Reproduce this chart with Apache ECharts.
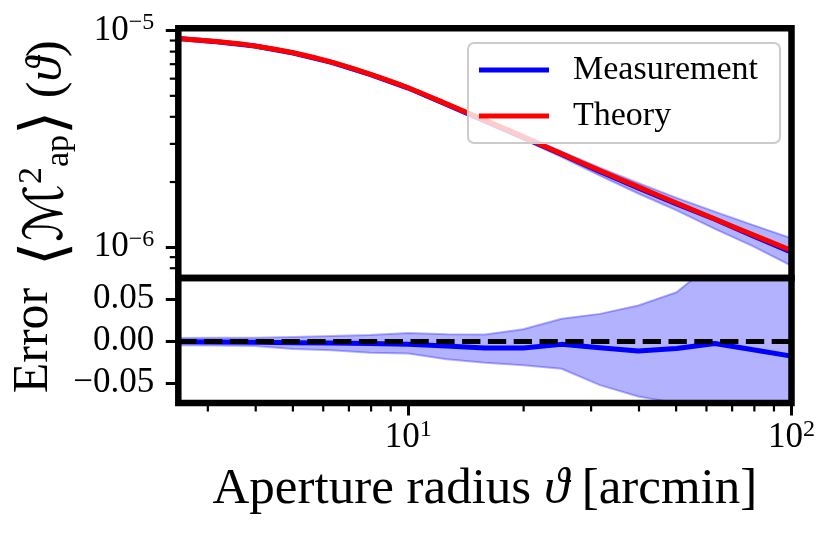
<!DOCTYPE html>
<html><head><meta charset="utf-8">
<script src="https://cdn.jsdelivr.net/npm/echarts@6/dist/echarts.min.js"></script>
<style>html,body{margin:0;padding:0;background:#fff}#c{width:830px;height:533px}</style>
</head><body><div id="c"></div>
<script>
// ---- data ----
const xVals   = [2.512, 3.162, 3.981, 5.012, 6.310, 7.943, 10, 12.59, 15.85, 19.95, 25.12, 31.62, 39.81, 50.12, 63.10, 79.43, 100];
const theory  = [9.2e-6, 8.9e-6, 8.5e-6, 7.9e-6, 7.15e-6, 6.3e-6, 5.45e-6, 4.59e-6, 3.86e-6, 3.24e-6, 2.70e-6, 2.26e-6, 1.90e-6, 1.60e-6, 1.35e-6, 1.14e-6, 9.66e-7];
const measTop = [9.19e-6, 8.89e-6, 8.49e-6, 7.88e-6, 7.13e-6, 6.28e-6, 5.43e-6, 4.56e-6, 3.83e-6, 3.21e-6, 2.69e-6, 2.24e-6, 1.88e-6, 1.585e-6, 1.346e-6, 1.128e-6, 9.49e-7];
const topUpper = [9.23e-6, 8.93e-6, 8.53e-6, 7.94e-6, 7.19e-6, 6.34e-6, 5.50e-6, 4.63e-6, 3.89e-6, 3.28e-6, 2.77e-6, 2.33e-6, 1.98e-6, 1.69e-6, 1.46e-6, 1.265e-6, 1.10e-6];
const topLower = [9.15e-6, 8.85e-6, 8.45e-6, 7.83e-6, 7.07e-6, 6.21e-6, 5.37e-6, 4.49e-6, 3.76e-6, 3.15e-6, 2.61e-6, 2.14e-6, 1.77e-6, 1.48e-6, 1.215e-6, 1.01e-6, 0.82e-6];
const errMeas  = [-0.001, -0.0012, -0.0015, -0.002, -0.0025, -0.003, -0.004, -0.006, -0.0083, -0.0083, -0.004, -0.008, -0.012, -0.009, -0.003, -0.0105, -0.018];
const errUpper = [0.0036, 0.0038, 0.004, 0.0047, 0.006, 0.0071, 0.0095, 0.008, 0.0077, 0.0139, 0.0264, 0.0323, 0.0423, 0.058, 0.095, 0.115, 0.135];
const errLower = [-0.005, -0.0055, -0.006, -0.0095, -0.011, -0.014, -0.015, -0.0217, -0.026, -0.029, -0.033, -0.0525, -0.066, -0.074, -0.10, -0.125, -0.15];
const zeroLevel = 0;

// ---- axes / ticks ----
const xMin = 2.512, xMax = 100;
const topMin = 7.21e-7, topMax = 1.025e-5;
const errMin = -0.0738, errMax = 0.075;
const xMajor = [10, 100];
const xMinor = [3, 4, 5, 6, 7, 8, 9, 20, 30, 40, 50, 60, 70, 80, 90];
const topMajor = [1e-6, 1e-5];
const topMinor = [8e-7, 9e-7, 2e-6, 3e-6, 4e-6, 5e-6, 6e-6, 7e-6, 8e-6, 9e-6];
const errTicks = [-0.05, 0, 0.05];
const errTickLabels = ['\u22120.05', '0.00', '0.05'];

const FONT = "'Liberation Serif','DejaVu Serif','DejaVu Sans',serif";
const BAND = 'rgba(0,0,255,0.3)';

function expLabel(v) {
  const e = Math.round(Math.log10(v));
  return '{b|10}{s|' + (e < 0 ? '\u2212' + (-e) : String(e)) + '}';
}
const expRich = {
  b: { fontFamily: FONT, fontSize: 35, lineHeight: 35, color: '#000' },
  s: { fontFamily: FONT, fontSize: 24, lineHeight: 24, padding: [0, 0, 16, 0], color: '#000' }
};

function bandRender(xs, lo, hi) {
  return function (params, api) {
    if (params.dataIndex !== 0) return;
    const pts = [];
    for (let i = 0; i < xs.length; i++) pts.push(api.coord([xs[i], hi[i]]));
    for (let i = xs.length - 1; i >= 0; i--) pts.push(api.coord([xs[i], lo[i]]));
    return { type: 'polygon', shape: { points: pts },
      style: { fill: BAND, stroke: BAND, lineWidth: 2 } };
  };
}
function tickRender(dx, dy) {
  return function (params, api) {
    const p = api.coord([api.value(0), api.value(1)]);
    return { type: 'line', shape: { x1: p[0], y1: p[1], x2: p[0] + dx, y2: p[1] + dy },
      style: { stroke: '#000', lineWidth: 2.2 } };
  };
}

const chart = echarts.init(document.getElementById('c'), null, { renderer: 'canvas' });
const gridCommon = { left: 178.3, right: 38.5, show: true, borderColor: '#000', borderWidth: 6.5,
  backgroundColor: 'transparent', z: 5, containLabel: false, outerBoundsMode: 'none' };

chart.setOption({
  animation: false,
  backgroundColor: '#fff',
  grid: [
    Object.assign({ top: 28.3, height: 249.7 }, gridCommon),
    Object.assign({ top: 278, height: 125 }, gridCommon)
  ],
  legend: {
    left: 468, top: 43, orient: 'vertical',
    padding: [10, 22, 10, 11], itemGap: 12, itemWidth: 70, itemHeight: 5, icon: 'rect',
    backgroundColor: 'rgba(255,255,255,0.8)', borderColor: '#cccccc', borderWidth: 2, borderRadius: 6,
    textStyle: { fontFamily: FONT, fontSize: 34, lineHeight: 33, color: '#000', padding: [0, 0, 0, 19] },
    data: [
      { name: 'Measurement', itemStyle: { color: '#0000ff' } },
      { name: 'Theory', itemStyle: { color: '#ff0000' } }
    ]
  },
  xAxis: [
    { type: 'log', gridIndex: 0, min: xMin, max: xMax,
      axisLine: { show: false, onZero: false }, axisTick: { show: false }, axisLabel: { show: false }, splitLine: { show: false } },
    { type: 'log', gridIndex: 1, min: xMin, max: xMax,
      axisLine: { show: false, onZero: false }, splitLine: { show: false },
      axisTick: { show: true, length: 12.5, customValues: xMajor, lineStyle: { color: '#000', width: 3 } },
      axisLabel: { customValues: xMajor, margin: 17, formatter: expLabel, rich: expRich, color: '#000' },
      name: 'Aperture radius {i|\u03d1} [arcmin]', nameLocation: 'middle', nameGap: 61, nameMoveOverlap: false,
      nameTextStyle: { fontFamily: FONT, fontSize: 51, lineHeight: 51, color: '#000',
        rich: { i: { fontFamily: FONT, fontSize: 51, lineHeight: 51, fontStyle: 'italic', color: '#000' } } } }
  ],
  yAxis: [
    { type: 'log', gridIndex: 0, min: topMin, max: topMax,
      axisLine: { show: false, onZero: false }, splitLine: { show: false },
      axisTick: { show: true, length: 12.5, customValues: topMajor, lineStyle: { color: '#000', width: 3 } },
      axisLabel: { customValues: topMajor, margin: 24, formatter: expLabel, rich: expRich, color: '#000' },
      name: '{br|\u27e8}{m|\u2133}{sp|2}{sb|ap}{br|\u27e9}{n| (}{i|\u03d1}{n|)}',
      nameLocation: 'middle', nameRotate: 90, nameGap: 96, nameMoveOverlap: false,
      nameTextStyle: { color: '#000', rich: {
        br: { fontFamily: "'DejaVu Serif','DejaVu Sans',serif", fontSize: 62, lineHeight: 68, color: '#000' },
        m:  { fontFamily: "'DejaVu Serif','DejaVu Sans',serif", fontSize: 54, lineHeight: 68, color: '#000' },
        sp: { fontFamily: FONT, fontSize: 34, lineHeight: 34, padding: [0, 0, 32, 0], color: '#000' },
        sb: { fontFamily: FONT, fontSize: 34, lineHeight: 34, padding: [22, 0, 0, 0], color: '#000' },
        n:  { fontFamily: FONT, fontSize: 50, lineHeight: 68, color: '#000' },
        i:  { fontFamily: FONT, fontSize: 50, lineHeight: 68, fontStyle: 'italic', color: '#000' }
      } } },
    { type: 'value', gridIndex: 1, min: errMin, max: errMax,
      axisLine: { show: false, onZero: false }, splitLine: { show: false },
      axisTick: { show: true, length: 12.5, customValues: errTicks, lineStyle: { color: '#000', width: 3 } },
      axisLabel: { customValues: errTicks, margin: 24, color: '#000', fontFamily: FONT, fontSize: 35,
        formatter: function (v) { const i = errTicks.findIndex(t => Math.abs(t - v) < 1e-9); return i >= 0 ? errTickLabels[i] : ''; } },
      name: 'Error', nameLocation: 'middle', nameRotate: 90, nameGap: 120, nameMoveOverlap: false,
      nameTextStyle: { fontFamily: FONT, fontSize: 50, lineHeight: 48, color: '#000' } }
  ],
  series: [
    { type: 'custom', name: 'bandTop', xAxisIndex: 0, yAxisIndex: 0, clip: true, z: 1, silent: true,
      renderItem: bandRender(xVals, topLower, topUpper),
      data: xVals.map((x, i) => [x, topLower[i], topUpper[i]]), encode: { x: 0, y: [1, 2] } },
    { type: 'line', name: 'Measurement', xAxisIndex: 0, yAxisIndex: 0, z: 2, showSymbol: false, symbol: 'none',
      color: '#0000ff', lineStyle: { color: '#0000ff', width: 5 },
      data: xVals.map((x, i) => [x, measTop[i]]) },
    { type: 'line', name: 'Theory', xAxisIndex: 0, yAxisIndex: 0, z: 3, showSymbol: false, symbol: 'none', smooth: 0.3,
      color: '#ff0000', lineStyle: { color: '#ff0000', width: 5 },
      data: xVals.map((x, i) => [x, theory[i]]) },
    { type: 'custom', name: 'bandErr', xAxisIndex: 1, yAxisIndex: 1, clip: true, z: 1, silent: true,
      renderItem: bandRender(xVals, errLower, errUpper),
      data: xVals.map((x, i) => [x, errLower[i], errUpper[i]]), encode: { x: 0, y: [1, 2] } },
    { type: 'line', name: 'err', xAxisIndex: 1, yAxisIndex: 1, z: 2, showSymbol: false, symbol: 'none',
      color: '#0000ff', lineStyle: { color: '#0000ff', width: 5 },
      data: xVals.map((x, i) => [x, errMeas[i]]) },
    { type: 'line', name: 'zero', xAxisIndex: 1, yAxisIndex: 1, z: 4, data: [], silent: true,
      markLine: { silent: true, symbol: ['none', 'none'], label: { show: false }, animation: false,
        lineStyle: { color: '#000', width: 5, type: [18.3, 7.5] }, emphasis: { disabled: true },
        data: [{ yAxis: zeroLevel }] } },
    { type: 'custom', name: 'minorX', xAxisIndex: 1, yAxisIndex: 1, clip: false, z: 1, silent: true,
      renderItem: tickRender(0, 8.5), data: xMinor.map(v => [v, errMin]) },
    { type: 'custom', name: 'minorY', xAxisIndex: 0, yAxisIndex: 0, clip: false, z: 1, silent: true,
      renderItem: tickRender(-8.5, 0), data: topMinor.map(v => [xMin, v]) }
  ]
});
</script></body></html>
